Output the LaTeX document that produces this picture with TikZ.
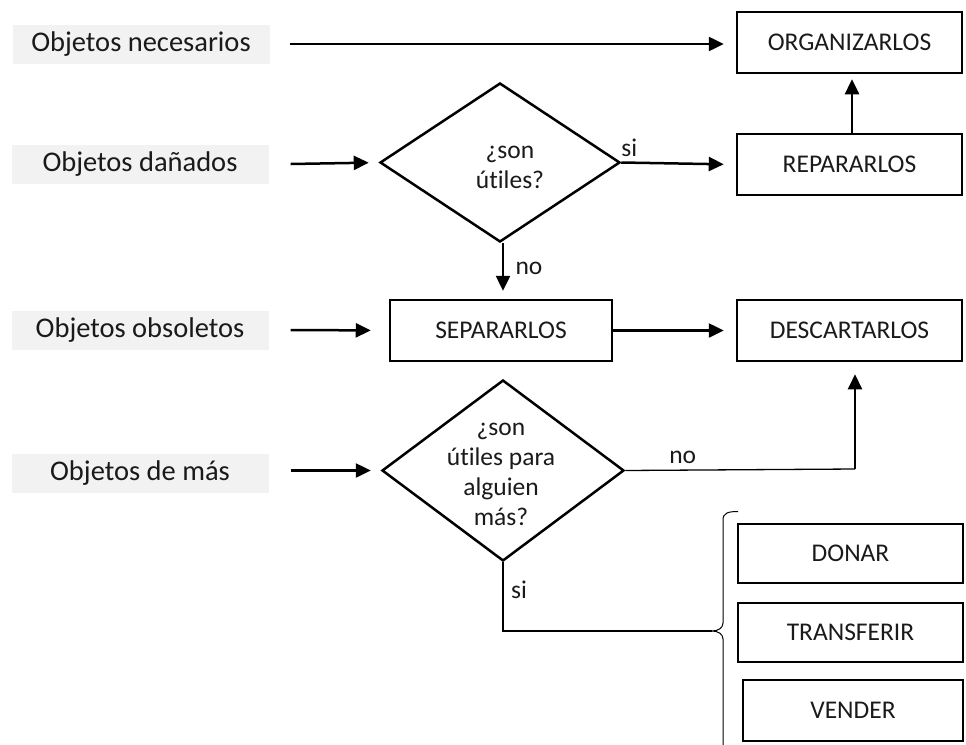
\documentclass[tikz,border=0pt]{standalone}
\usepackage{fontspec}
\setmainfont{Carlito}[Ligatures=NoCommon]
\usetikzlibrary{shapes.geometric,arrows.meta}
\definecolor{labgray}{HTML}{F2F2F2}
\definecolor{ink}{HTML}{1A1A1A}
\begin{document}
\begin{tikzpicture}[x=1pt,y=-1pt,
  every node/.style={font=\fontsize{25.5}{30}\selectfont, text=ink},
  lab/.style={fill=labgray, minimum width=257pt, minimum height=39pt, inner sep=0pt, font=\fontsize{28.5}{32}\selectfont},
  box/.style={draw, line width=2.5pt, minimum height=61pt, inner sep=0pt},
  dia/.style={draw, diamond, line width=2.5pt, inner sep=0pt},
  arr/.style={line width=2.5pt, -{Triangle[length=15pt,width=14pt]}},
  thinl/.style={line width=1.3pt}]
\useasboundingbox (0,0) rectangle (966,744);

% labels
\node[lab] (l1) at (141,44) {Objetos necesarios};
\node[lab] (l2) at (140,164) {Objetos dañados};
\node[lab] (l3) at (140,330) {Objetos obsoletos};
\node[lab] (l4) at (140,473) {Objetos de más};

% boxes
\node[box, minimum width=225pt] (org) at (849.5,42.5) {ORGANIZARLOS};
\node[box, minimum width=225pt] (rep) at (849.5,164.5) {REPARARLOS};
\node[box, minimum width=222pt] (sep) at (501,330.5) {SEPARARLOS};
\node[box, minimum width=225pt] (des) at (849.5,330.5) {DESCARTARLOS};
\node[box, minimum width=225pt, minimum height=59pt] (don) at (850.5,553.5) {DONAR};
\node[box, minimum width=225pt, minimum height=59pt] (tra) at (850.5,632.5) {TRANSFERIR};
\node[box, minimum width=220pt] (ven) at (853,710.5) {VENDER};

% diamonds
\node[dia, minimum width=240pt, minimum height=159pt] (d1) at (500,162.5) {};
\node[align=center] (d1t) at (510,167) {¿son\\útiles?};
\node[dia, minimum width=242pt, minimum height=181pt] (d2) at (503,470.5) {};
\node[align=center] (d2t) at (501,474) {¿son\\útiles para\\alguien\\más?};

% arrows
\draw[arr, shorten >=12pt] ([xshift=20pt]l1.east) -- (l1.east -| org.west);
\draw[arr, shorten >=10pt] ([xshift=22pt]l2.east) -- (d1.west);
\draw[arr, shorten >=12pt] (d1.east) -- node[pos=0.07, above, yshift=1pt] (si1) {si} (rep.west);
\draw[arr, shorten >=5pt] ([xshift=2.5pt]rep.north) -- ([xshift=2.5pt]org.south);
\draw[arr, shorten >=8pt] ([xshift=3pt]d1.south) -- ([xshift=3pt]d1.south |- sep.north) node[pos=0.45, right, xshift=8pt] (no1) {no};
\draw[arr, shorten >=18pt] ([xshift=22pt]l3.east) -- (sep.west);
\draw[arr, shorten >=12pt] (sep.east) -- (des.west);
\draw[arr, shorten >=10pt] ([xshift=22pt]l4.east |- d2.west) -- (d2.west);

% no from d2
\coordinate (c2) at (855,469);
\draw[thinl] (d2.east) -- node[pos=0.25, above, yshift=2pt] (no2) {no} (c2);
\draw[arr, line width=2pt, shorten >=12pt] ([yshift=-0.4pt]c2) -- (c2 |- des.south);

% brace
\coordinate (bt) at (712,631);
\draw[line width=1pt] (738,511.5) .. controls (728,511.5) and (723,513) .. (723,520)
  -- (723,623) .. controls (723,628) and (718,631) .. (bt)
  .. controls (718,631) and (723,634) .. (723,639) -- (723,746);

% si from d2
\draw[thinl] (d2.south) -- (d2.south |- bt) -- (bt);
\node (si2) at (519,590) {si};
\end{tikzpicture}
\end{document}
